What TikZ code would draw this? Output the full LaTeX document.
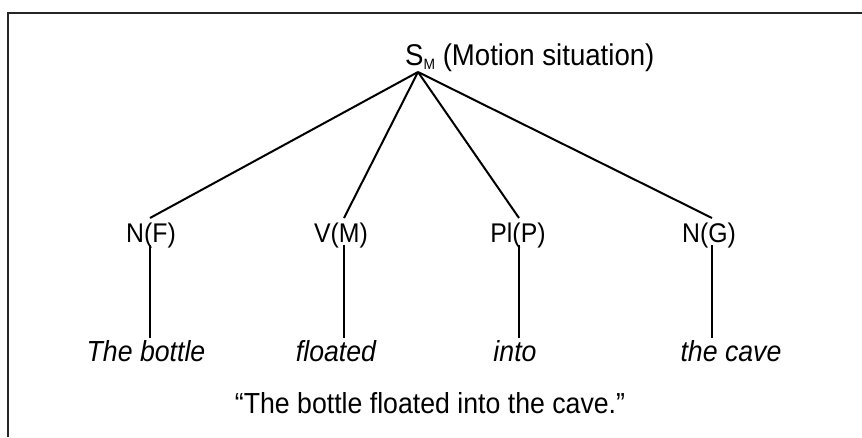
\documentclass[tikz,border=0pt]{standalone}
\usepackage{fontspec}
\setmainfont[FakeStretch=0.92]{Liberation Sans}
\begin{document}
\begin{tikzpicture}[x=1pt,y=-1pt,
  lbl/.style={inner sep=0pt,anchor=base,font=\fontsize{27}{32}\selectfont},
  leaf/.style={inner sep=0pt,anchor=base,font=\fontsize{29}{34}\selectfont\itshape},
  edge/.style={line width=2pt,black},
  frame/.style={line width=2pt,black!85}]
\useasboundingbox (0,0) rectangle (862,437);
\draw[frame] (8,437) -- (8,13) -- (862,13);
% title
\node[inner sep=0pt,anchor=base west,font=\fontsize{30}{34}\selectfont] (root) at (405,65)
  {S\raisebox{-4pt}{\fontsize{15}{15}\selectfont M} (Motion situation)};
\coordinate (apex) at (418,72);
% categories
\node[lbl] (nf) at (151,242) {N(F)};
\node[lbl] (vm) at (341,242) {V(M)};
\node[lbl] (pp) at (518,242) {Pl(P)};
\node[lbl] (ng) at (709,242) {N(G)};
\coordinate (t1) at (150,218);
\coordinate (t2) at (344,218);
\coordinate (t3) at (519,218);
\coordinate (t4) at (712,218);
\coordinate (b1) at (150,245);
\coordinate (b2) at (344,245);
\coordinate (b3) at (519,245);
\coordinate (b4) at (712,245);
\coordinate (e1) at (150,338);
\coordinate (e2) at (344,338);
\coordinate (e3) at (519,338);
\coordinate (e4) at (712,338);
% leaves
\node[leaf] (l1) at (146,361) {The bottle};
\node[leaf] (l2) at (336,361) {floated};
\node[leaf] (l3) at (515,361) {into};
\node[leaf] (l4) at (731,361) {the cave};
\node[inner sep=0pt,anchor=base,font=\fontsize{29}{34}\selectfont] (q) at (430,413)
  {“The bottle floated into the cave.”};
% edges
\foreach \t in {t1,t2,t3,t4} \draw[edge] (apex) -- (\t);
\draw[edge] (b1) -- (e1);
\draw[edge] (b2) -- (e2);
\draw[edge] (b3) -- (e3);
\draw[edge] (b4) -- (e4);
\end{tikzpicture}
\end{document}
